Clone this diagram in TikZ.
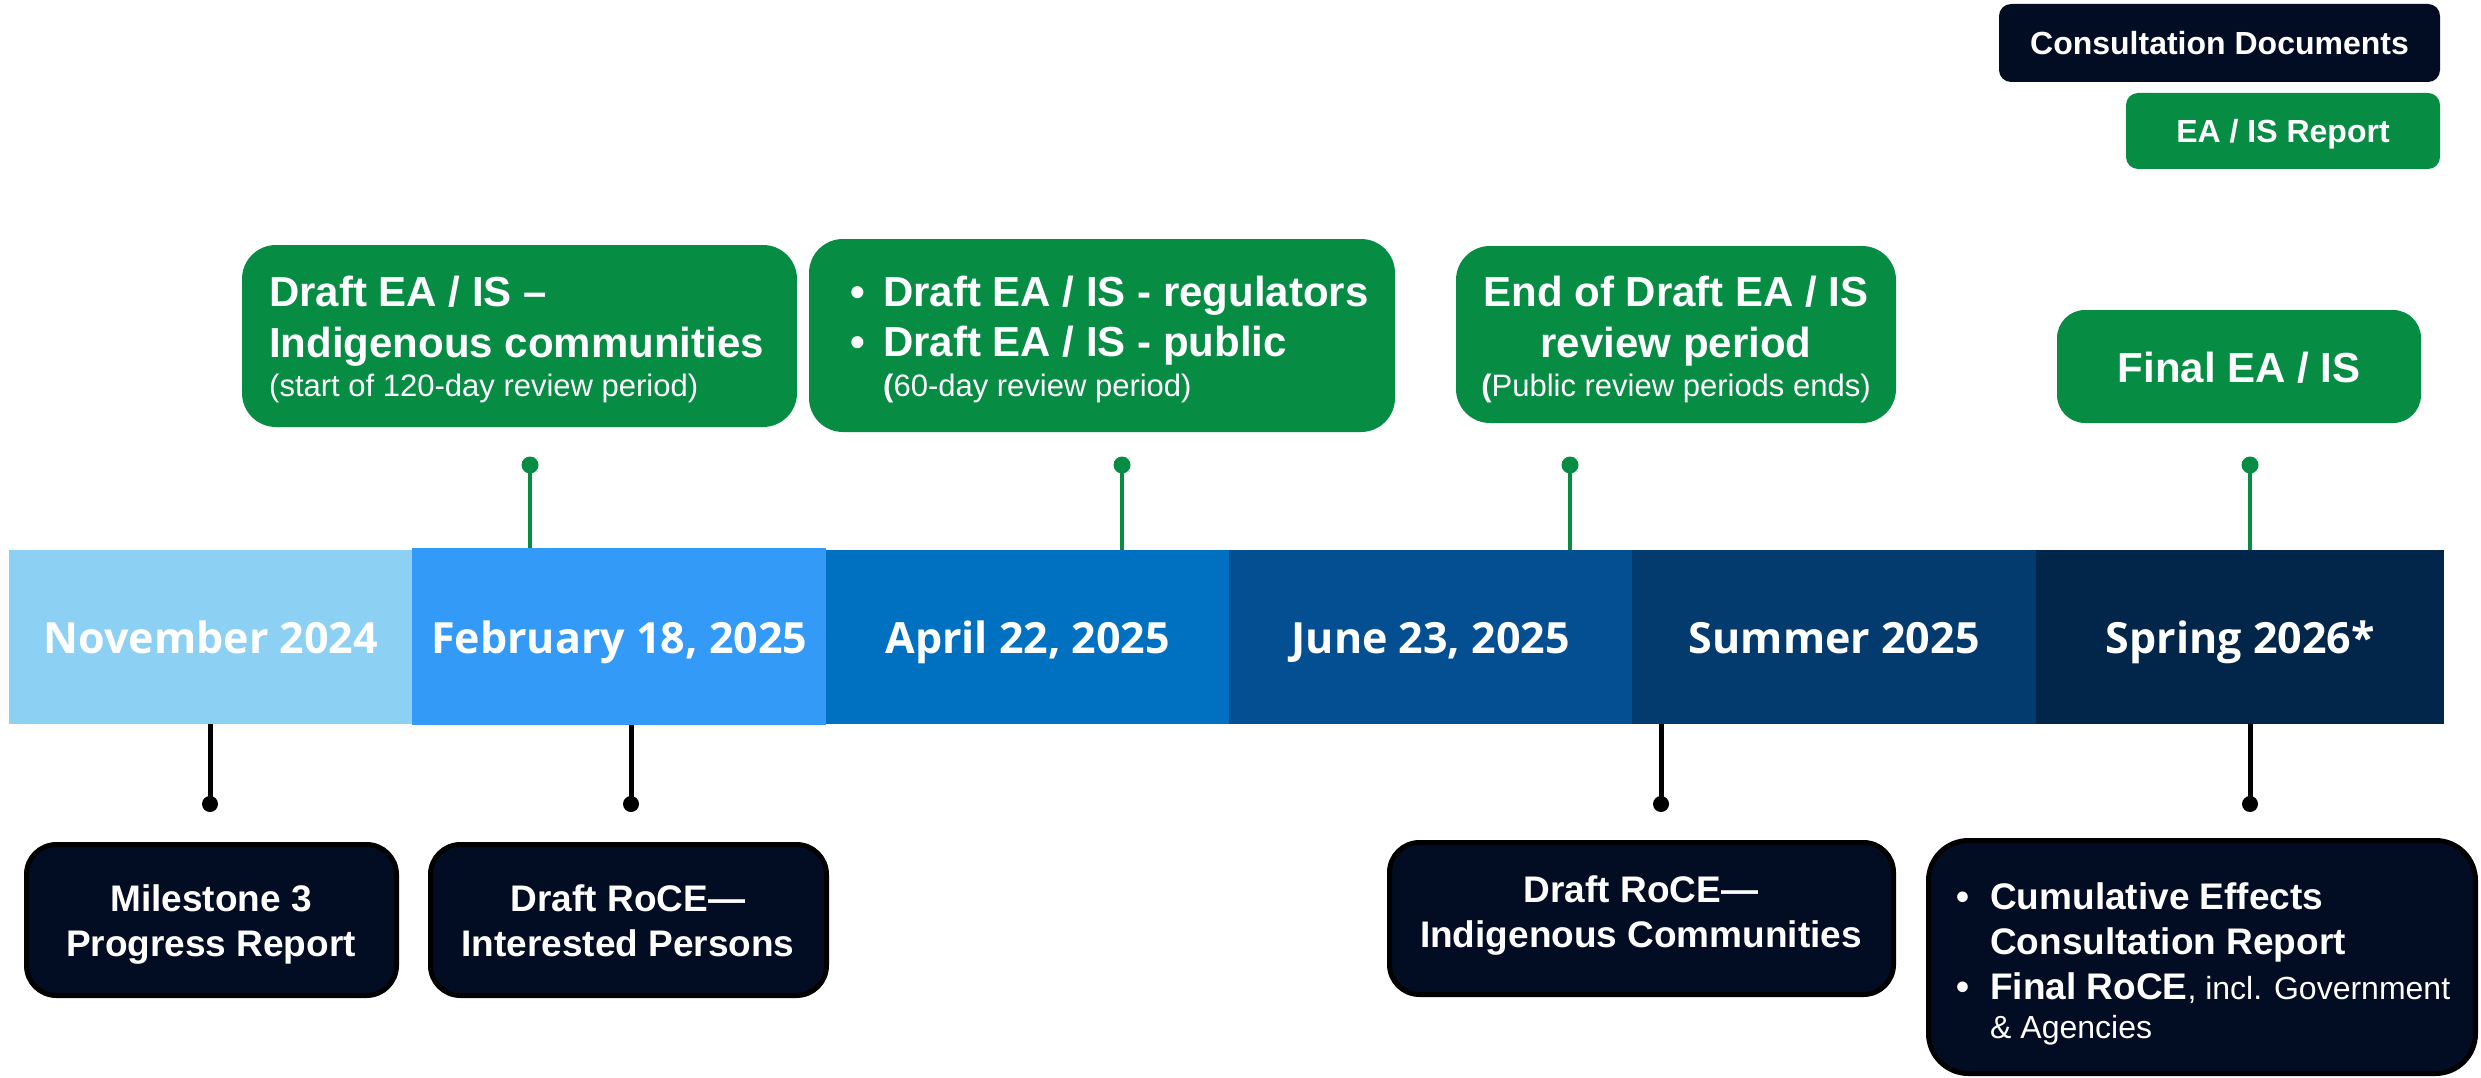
\documentclass[tikz,border=0pt]{standalone}
\usepackage{fontspec}
\setmainfont{Liberation Sans}
\newfontfamily\datefont{Open Sans}
\definecolor{eagreen}{RGB}{7,140,68}
\definecolor{navy}{RGB}{2,13,36}
\definecolor{cnov}{RGB}{140,209,243}
\definecolor{cfeb}{RGB}{51,154,247}
\definecolor{capr}{RGB}{0,112,192}
\definecolor{cjun}{RGB}{3,79,146}
\definecolor{csum}{RGB}{3,59,111}
\definecolor{cspr}{RGB}{2,38,73}
\begin{document}
\begin{tikzpicture}[x=1pt,y=-1pt,
  seg/.style={rectangle,inner sep=0pt,anchor=north west,minimum height=174pt,text=white,
    font=\datefont\bfseries\fontsize{43}{50}\selectfont,text height=33pt,text depth=0pt},
  gbox/.style={rectangle,fill=eagreen,rounded corners=34pt,inner sep=0pt},
  dbox/.style={rectangle,fill=navy,draw=black,line width=5pt,rounded corners=30pt,inner sep=0pt},
  lbox/.style={rectangle,rounded corners=12pt,inner sep=0pt,text=white,
    font=\bfseries\fontsize{32}{38}\selectfont,text height=23pt,text depth=0pt},
  bigt/.style={text=white,inner sep=0pt,font=\bfseries\fontsize{42}{50}\selectfont},
  smallt/.style={text=white,inner sep=0pt,font=\fontsize{31}{38}\selectfont},
  midt/.style={text=white,inner sep=0pt,font=\bfseries\fontsize{37}{45}\selectfont},
  regt/.style={text=white,inner sep=0pt,font=\fontsize{32}{38}\selectfont},
  gstem/.style={draw=eagreen,line width=4pt},
  kstem/.style={draw=black,line width=5pt},
]
\useasboundingbox[fill=white] (0,0) rectangle (2481,1078);

% legend
\node[lbox,fill=navy,minimum width=441pt,minimum height=78pt] (leg1) at (2219.5,43) {Consultation Documents};
\node[lbox,fill=eagreen,minimum width=314pt,minimum height=76pt] (leg2) at (2283,131) {EA / IS Report};

% timeline segments
\node[seg,fill=cnov,minimum width=403pt] (s1) at (9,550) {November 2024};
\node[seg,fill=cfeb,minimum width=414pt,minimum height=177pt] (s2) at (412,548) {February 18, 2025};
\node[seg,fill=capr,minimum width=403pt] (s3) at (826,550) {April 22, 2025};
\node[seg,fill=cjun,minimum width=403pt] (s4) at (1229,550) {June 23, 2025};
\node[seg,fill=csum,minimum width=404pt] (s5) at (1632,550) {Summer 2025};
\node[seg,fill=cspr,minimum width=408pt] (s6) at (2036,550) {Spring 2026*};

% green boxes
\node[gbox,minimum width=555pt,minimum height=182pt] (g1) at (519.5,336) {};
\node[gbox,minimum width=586pt,minimum height=193pt] (g2) at (1102,335.5) {};
\node[gbox,minimum width=440pt,minimum height=177pt] (g3) at (1676,334.5) {};
\node[gbox,rounded corners=28pt,minimum width=364pt,minimum height=113pt] (g4) at (2239,366.5) {};

\node[bigt,anchor=base west] (g1a) at (269,306) {Draft EA / IS –};
\node[bigt,anchor=base west] (g1b) at (269,357) {Indigenous communities};
\node[smallt,anchor=base west] (g1c) at (269,396) {(start of 120-day review period)};

\node[bigt,anchor=base west] (g2u) at (850,306) {•};
\node[bigt,anchor=base west] (g2v) at (850,356) {•};
\node[bigt,anchor=base west] (g2a) at (883,306) {Draft EA / IS - regulators};
\node[bigt,anchor=base west] (g2b) at (883,356) {Draft EA / IS - public};
\node[smallt,anchor=base west] (g2c) at (883,396) {{\bfseries(}60-day review period)};

\node[bigt,anchor=base] (g3a) at (1676,306) {End of Draft EA / IS};
\node[bigt,anchor=base] (g3b) at (1676,357) {review period};
\node[smallt,anchor=base] (g3c) at (1676,396) {{\bfseries(}Public review periods ends)};

\node[bigt,anchor=base] (g4a) at (2239,382) {Final EA / IS};

% dark boxes
\node[dbox,minimum width=370pt,minimum height=151pt] (b1) at (211.5,920) {};
\node[dbox,minimum width=396pt,minimum height=151pt] (b2) at (628.5,920) {};
\node[dbox,minimum width=504pt,minimum height=152pt] (b3) at (1641.5,918.5) {};
\node[dbox,rounded corners=40pt,minimum width=547pt,minimum height=233pt] (b4) at (2202,957) {};

\node[midt,anchor=base] (b1a) at (211,911) {Milestone 3};
\node[midt,anchor=base] (b1b) at (211,956) {Progress Report};
\node[midt,anchor=base] (b2a) at (628,911) {Draft RoCE—};
\node[midt,anchor=base] (b2b) at (628,956) {Interested Persons};
\node[midt,anchor=base] (b3a) at (1641,902) {Draft RoCE—};
\node[midt,anchor=base] (b3b) at (1641,947) {Indigenous Communities};
\node[midt,anchor=base west] (b4u) at (1956,909) {•};
\node[midt,anchor=base west] (b4a) at (1990,909) {Cumulative Effects};
\node[midt,anchor=base west] (b4b) at (1990,954) {Consultation Report};
\node[midt,anchor=base west] (b4v) at (1956,999) {•};
\node[midt,anchor=base west] (b4c) at (1990,999) {Final RoCE{\mdseries\fontsize{32}{38}\selectfont, incl. Government}};
\node[regt,anchor=base west] (b4d) at (1990,1038) {\& Agencies};

% green stems
\coordinate (gd1) at (530,465);
\coordinate (gd2) at (1122,465);
\coordinate (gd3) at (1570,465);
\coordinate (gd4) at (2250,465);
\draw[gstem] (gd1) -- (gd1 |- s2.north);
\draw[gstem] (gd2) -- (gd2 |- s3.north);
\draw[gstem] (gd3) -- (gd3 |- s4.north);
\draw[gstem] (gd4) -- (gd4 |- s6.north);
\foreach \p in {gd1,gd2,gd3,gd4} \fill[eagreen] (\p) circle (8.5);

% black stems
\coordinate (kd1) at (210,804);
\coordinate (kd2) at (631,804);
\coordinate (kd3) at (1661,804);
\coordinate (kd4) at (2250,804);
\draw[kstem] (kd1 |- s1.south) -- (kd1);
\draw[kstem] (kd2 |- s2.south) -- (kd2);
\draw[kstem] (kd3 |- s5.south) -- (kd3);
\draw[kstem] (kd4 |- s6.south) -- (kd4);
\foreach \p in {kd1,kd2,kd3,kd4} \fill[black] (\p) circle (8);
\end{tikzpicture}
\end{document}
